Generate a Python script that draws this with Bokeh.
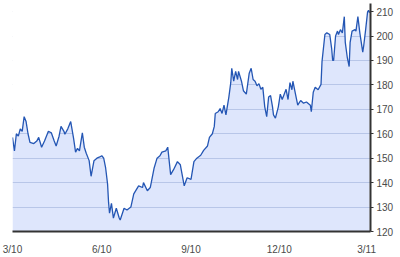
from bokeh.plotting import figure
from bokeh.models import Range1d, FixedTicker
from bokeh.embed import file_html
from bokeh.resources import INLINE

# day offsets from 2010-03-01 and closing prices
days = [0, 2, 4, 6, 8, 10, 12, 14, 16, 18, 22, 25, 27, 30, 33, 37, 40, 43, 45, 48,
        50, 53, 54, 57, 60, 63, 65, 67, 69, 72, 74, 76, 79, 81, 84, 87, 90, 92, 94, 96,
        98, 99, 100, 102, 104, 107, 110, 111, 115, 118, 122, 125, 130, 134, 135, 139, 142, 146, 149, 152,
        154, 158, 160, 163, 166, 170, 173, 177, 180, 184, 187, 190, 194, 197, 201, 203, 206, 208, 209, 212,
        214, 216, 218, 220, 223, 225, 226, 228, 230, 232, 233, 236, 238, 241, 244, 246, 248, 250, 252, 254,
        256, 258, 260, 262, 264, 266, 268, 269, 271, 274, 276, 278, 282, 284, 286, 288, 289, 292, 294, 297,
        300, 303, 307, 308, 310, 312, 315, 318, 319, 322, 324, 327, 329, 330, 331, 333, 335, 336, 338, 340,
        342, 343, 345, 347, 348, 350, 353, 354, 356, 358, 361, 362, 364, 366, 367, 368]
prices = [158.5, 153.0, 160.0, 159.0, 162.0, 161.0, 167.0, 165.0, 160.0, 156.5, 156.0, 157.0, 158.5, 154.5, 157.0, 161.0, 160.4, 157.0, 155.0, 159.0,
          163.0, 161.0, 159.8, 162.0, 165.0, 158.0, 152.5, 154.0, 153.0, 160.4, 154.5, 152.0, 149.0, 142.6, 149.0, 150.0, 150.5, 151.0, 150.0, 146.0,
          139.4, 132.0, 127.5, 131.5, 125.5, 129.5, 125.5, 124.7, 129.5, 128.8, 130.0, 135.4, 138.7, 138.0, 140.0, 136.7, 138.0, 146.0, 150.0, 151.0,
          152.5, 153.0, 154.5, 143.3, 145.3, 148.6, 147.3, 138.7, 142.0, 141.3, 148.6, 150.0, 151.2, 153.2, 155.0, 158.5, 160.0, 163.0, 168.3, 169.0,
          170.3, 168.3, 171.7, 167.7, 175.0, 181.0, 186.8, 181.5, 185.5, 182.2, 185.5, 181.5, 177.6, 176.2, 184.8, 186.8, 182.2, 181.5, 179.6, 180.5,
          178.2, 179.0, 171.0, 167.0, 175.0, 175.6, 171.0, 167.7, 166.4, 171.0, 176.2, 174.0, 178.2, 174.0, 180.9, 178.0, 181.5, 175.6, 171.7, 173.6,
          172.5, 173.0, 171.7, 169.0, 177.0, 179.0, 178.0, 180.2, 189.4, 200.6, 201.3, 200.6, 194.7, 190.0, 190.0, 200.0, 202.0, 200.6, 202.6, 201.3,
          207.9, 197.4, 191.4, 187.5, 197.4, 202.0, 202.6, 202.0, 207.9, 201.3, 193.4, 196.0, 202.6, 209.9, 210.5, 209.5]

tick_days = [0, 92, 184, 275, 365]
tick_labels = ["3/10", "6/10", "9/10", "12/10", "3/11"]
y_ticks = [120, 130, 140, 150, 160, 170, 180, 190, 200, 210]

Y_MIN, Y_MAX = 120, 213.3

p = figure(width=400, height=257, output_backend="svg", toolbar_location=None,
           x_range=Range1d(0, 369), y_range=Range1d(Y_MIN, Y_MAX),
           min_border_left=12, min_border_right=30, min_border_top=3, min_border_bottom=17,
           y_axis_location="right")
p.outline_line_color = None
p.background_fill_color = "white"
p.border_fill_color = "white"

p.xgrid.grid_line_color = None
p.ygrid.ticker = FixedTicker(ticks=y_ticks)
p.ygrid.grid_line_color = "#d2d9e8"
p.ygrid.grid_line_width = 1

# fill under curve (semi-transparent so grid shows through)
p.varea(x=days, y1=[Y_MIN] * len(days), y2=prices, fill_color="#3366ee", fill_alpha=0.16)
# white cover above the curve hides gridlines there
p.varea(x=days, y1=prices, y2=[Y_MAX] * len(days), fill_color="white", fill_alpha=1.0)
p.line(x=days, y=prices, line_color="#2456b4", line_width=1.3)

xa = p.xaxis[0]
xa.ticker = FixedTicker(ticks=tick_days)
xa.major_label_overrides = {d: l for d, l in zip(tick_days, tick_labels)}
xa.axis_line_color = "#333333"
xa.axis_line_width = 2
xa.major_tick_line_color = None
xa.minor_tick_line_color = None
xa.major_label_standoff = 6
xa.major_label_text_font = "Liberation Sans"
xa.major_label_text_font_size = "10px"
xa.major_label_text_color = "#4a4a4a"

ya = p.yaxis[0]
ya.ticker = FixedTicker(ticks=y_ticks)
ya.axis_line_color = "#333333"
ya.axis_line_width = 2
ya.major_tick_line_color = "#333333"
ya.major_tick_out = 3
ya.major_tick_in = 0
ya.minor_tick_line_color = None
ya.major_label_standoff = 3
ya.major_label_text_font = "Liberation Sans"
ya.major_label_text_font_size = "10px"
ya.major_label_text_color = "#4a4a4a"

open("out.html", "w").write(file_html(p, INLINE))
